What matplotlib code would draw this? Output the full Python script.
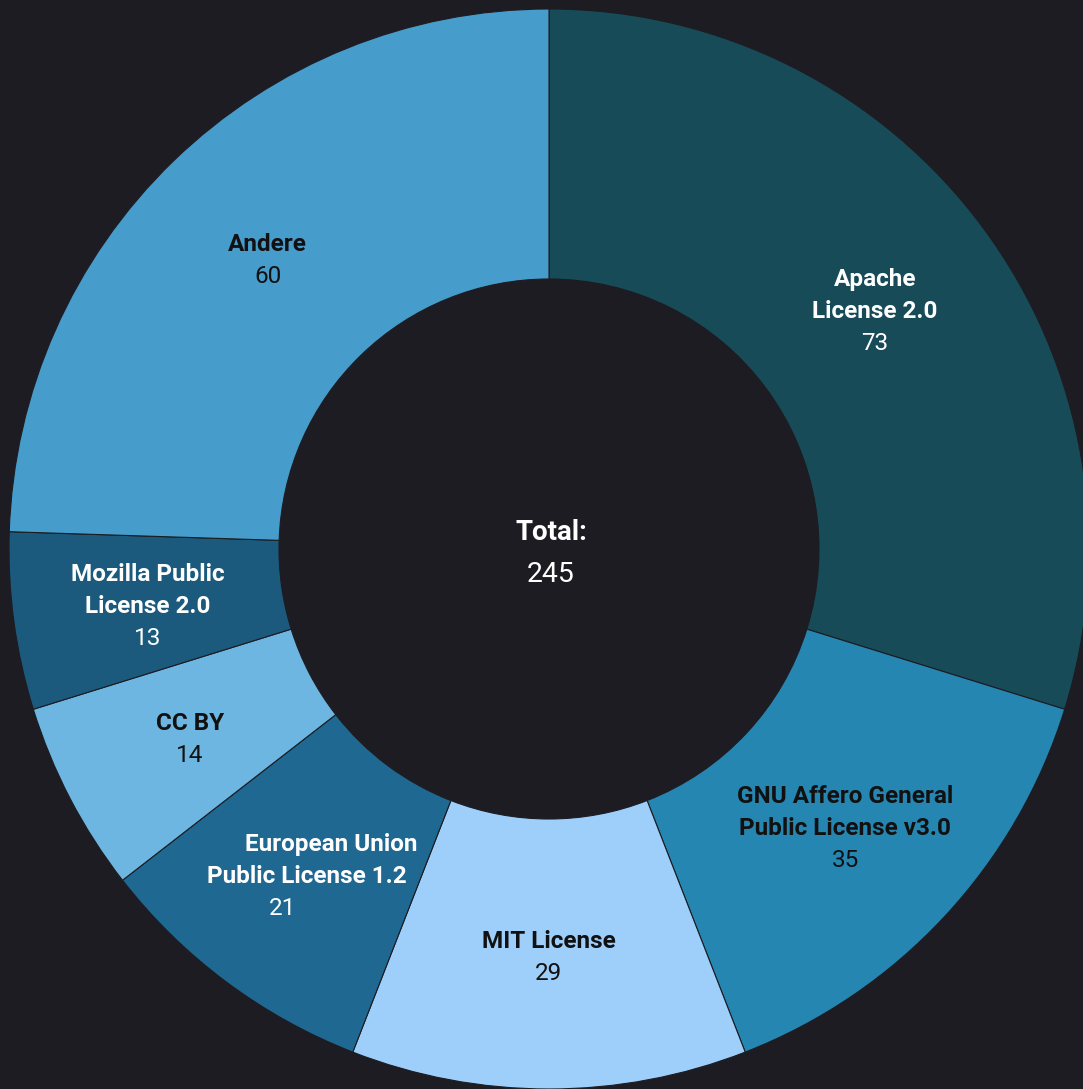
import numpy as np
import matplotlib.pyplot as plt

# license counts, clockwise from 12 o'clock
labels = ['Apache\nLicense 2.0', 'GNU Affero General\nPublic License v3.0', 'MIT License',
          'European Union\nPublic License 1.2', 'CC BY', 'Mozilla Public\nLicense 2.0', 'Andere']
values = [73, 35, 29, 21, 14, 13, 60]
colors = ['#174b58', '#2686b2', '#9dcffa', '#1f6891', '#6db6e1', '#1b5a7c', '#469cca']
text_colors = ['white', '#111111', '#111111', 'white', '#111111', 'white', '#111111']

BG = '#1d1c22'
plt.rcParams['font.family'] = ['Roboto', 'DejaVu Sans']

fig = plt.figure(figsize=(10.83, 10.89), dpi=100, facecolor=BG)
ax = fig.add_axes([0, 0, 1, 1])
ax.set_facecolor(BG)

cx, cy, R = 549, 540, 540
wedges, _ = ax.pie(values, colors=colors, startangle=90, counterclock=False,
                   center=(cx, cy), radius=R, frame=True,
                   wedgeprops=dict(width=R * 0.5, edgecolor=BG, linewidth=0.8))
ax.set_xlim(0, 1083)
ax.set_ylim(0, 1089)
ax.set_axis_off()

# label placement: mid-ring, mid-angle (Andere is nudged like in the original)
angle_override = {6: 316}
slant = {3: -24}
total = sum(values)
r_lab = R * 0.75
line_h = 32
start = 0
for i, (lab, v) in enumerate(zip(labels, values)):
    mid = start + v / total * 360 / 2
    start += v / total * 360
    ang = np.deg2rad(angle_override.get(i, mid))
    lx = cx + r_lab * np.sin(ang)
    ly = cy - 3 + r_lab * np.cos(ang)
    lines = lab.split('\n') + [str(v)]
    n = len(lines)
    for j, s in enumerate(lines):
        off = (j - (n - 1) / 2)
        y = ly - off * line_h
        x = lx + off * slant.get(i, 0)
        bold = j < n - 1
        ax.text(x, y, s, ha='center', va='center', fontsize=17.5,
                fontweight='bold' if bold else 'normal',
                color=text_colors[i])

ax.text(cx + 2, cy + 17, 'Total:', ha='center', va='center', fontsize=20,
        fontweight='bold', color='white')
ax.text(cx + 2, cy - 25, str(total), ha='center', va='center', fontsize=20.5,
        color='white')

fig.savefig('out.png', dpi=100, facecolor=BG)
